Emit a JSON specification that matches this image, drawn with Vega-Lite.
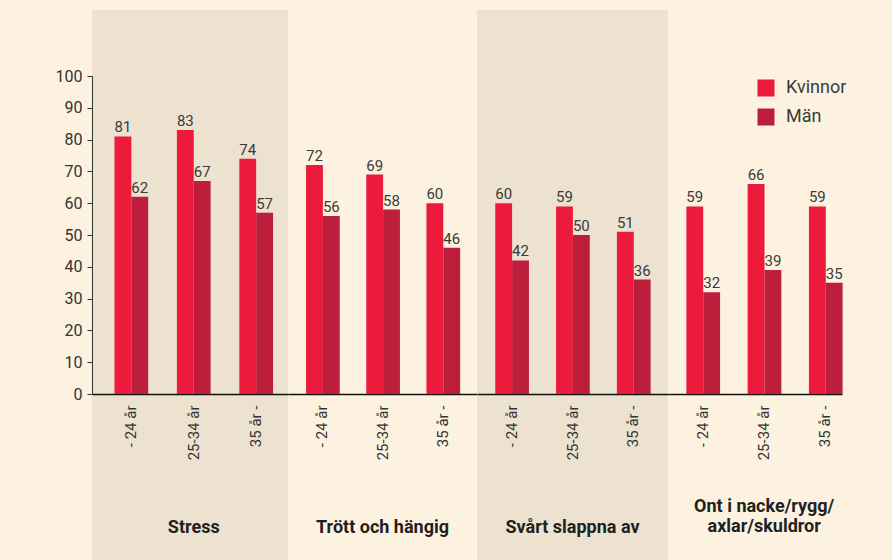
{
  "$schema": "https://vega.github.io/schema/vega-lite/v6.json",
  "background": "#fdf2e0",
  "padding": {"left": 55, "top": 10, "right": 45, "bottom": 0},
  "autosize": {"type": "pad"},
  "spacing": 0,
  "bounds": "flush",
  "datasets": {
    "d": [
      {"grupp": "Stress", "alder": "- 24 år", "kon": "Kvinnor", "varde": 81},
      {"grupp": "Stress", "alder": "- 24 år", "kon": "Män", "varde": 62},
      {"grupp": "Stress", "alder": "25-34 år", "kon": "Kvinnor", "varde": 83},
      {"grupp": "Stress", "alder": "25-34 år", "kon": "Män", "varde": 67},
      {"grupp": "Stress", "alder": "35 år -", "kon": "Kvinnor", "varde": 74},
      {"grupp": "Stress", "alder": "35 år -", "kon": "Män", "varde": 57},
      {"grupp": "Trött", "alder": "- 24 år", "kon": "Kvinnor", "varde": 72},
      {"grupp": "Trött", "alder": "- 24 år", "kon": "Män", "varde": 56},
      {"grupp": "Trött", "alder": "25-34 år", "kon": "Kvinnor", "varde": 69},
      {"grupp": "Trött", "alder": "25-34 år", "kon": "Män", "varde": 58},
      {"grupp": "Trött", "alder": "35 år -", "kon": "Kvinnor", "varde": 60},
      {"grupp": "Trött", "alder": "35 år -", "kon": "Män", "varde": 46},
      {"grupp": "Svårt", "alder": "- 24 år", "kon": "Kvinnor", "varde": 60},
      {"grupp": "Svårt", "alder": "- 24 år", "kon": "Män", "varde": 42},
      {"grupp": "Svårt", "alder": "25-34 år", "kon": "Kvinnor", "varde": 59},
      {"grupp": "Svårt", "alder": "25-34 år", "kon": "Män", "varde": 50},
      {"grupp": "Svårt", "alder": "35 år -", "kon": "Kvinnor", "varde": 51},
      {"grupp": "Svårt", "alder": "35 år -", "kon": "Män", "varde": 36},
      {"grupp": "Ont", "alder": "- 24 år", "kon": "Kvinnor", "varde": 59},
      {"grupp": "Ont", "alder": "- 24 år", "kon": "Män", "varde": 32},
      {"grupp": "Ont", "alder": "25-34 år", "kon": "Kvinnor", "varde": 66},
      {"grupp": "Ont", "alder": "25-34 år", "kon": "Män", "varde": 39},
      {"grupp": "Ont", "alder": "35 år -", "kon": "Kvinnor", "varde": 59},
      {"grupp": "Ont", "alder": "35 år -", "kon": "Män", "varde": 35}
    ]
  },
  "hconcat": [
    {
      "width": 196, "height": 550,
      "view": {"fill": "#ece2cf", "stroke": null},
      "layer": [
        {
          "data": {"name": "d"},
          "transform": [{"filter": "datum.grupp === 'Stress'"}],
          "mark": {"type": "bar"},
          "encoding": {
            "x": {"field": "alder", "type": "nominal", "sort": ["- 24 år", "25-34 år", "35 år -"], "scale": {"paddingInner": 0.46, "paddingOuter": 0.3, "align": 0.6}, "axis": {"title": null, "offset": -166, "domainColor": "#111111", "domainWidth": 1.5, "ticks": false, "labelAngle": 270, "labelAlign": "right", "labelBaseline": "middle", "labelPadding": 11, "labelFontSize": 15, "labelColor": "#333333", "grid": false}},
            "xOffset": {"field": "kon", "type": "nominal", "sort": ["Kvinnor", "Män"], "scale": {"paddingInner": 0, "paddingOuter": 0}},
            "y": {"field": "varde", "type": "quantitative", "scale": {"domain": [0, 100], "range": [384, 66], "nice": false, "zero": false}, "axis": {"values": [0, 10, 20, 30, 40, 50, 60, 70, 80, 90, 100], "domain": true, "domainColor": "#333333", "ticks": true, "tickColor": "#333333", "tickSize": 5, "labelFontSize": 16, "labelColor": "#333333", "labelPadding": 5, "grid": false, "title": null}},
            "color": {"field": "kon", "type": "nominal", "scale": {"domain": ["Kvinnor", "Män"], "range": ["#ed1b3b", "#bd1e3c"]}, "legend": {"orient": "none", "legendX": 665, "legendY": 69, "title": null, "symbolType": "square", "symbolSize": 289, "symbolStrokeWidth": 0, "labelFontSize": 18, "labelColor": "#3a3a3a", "labelOffset": 11, "rowPadding": 11}}
          }
        },
        {
          "data": {"name": "d"},
          "transform": [{"filter": "datum.grupp === 'Stress'"}],
          "mark": {"type": "text", "baseline": "alphabetic", "dy": -4, "fontSize": 15, "color": "#3a3a3a"},
          "encoding": {
            "x": {"field": "alder", "type": "nominal", "sort": ["- 24 år", "25-34 år", "35 år -"]},
            "xOffset": {"field": "kon", "type": "nominal", "sort": ["Kvinnor", "Män"]},
            "y": {"field": "varde", "type": "quantitative"},
            "text": {"field": "varde", "type": "quantitative"}
          }
        },
        {
          "data": {"name": "d"},
          "transform": [{"filter": "datum.grupp === 'Stress'"}, {"aggregate": [{"op": "count", "as": "n"}]}],
          "mark": {"type": "text", "baseline": "alphabetic", "align": "center", "fontSize": 18, "fontWeight": "bold", "color": "#231f20"},
          "encoding": {"x": {"datum": "25-34 år"}, "y": {"datum": -43.7}, "text": {"value": "Stress"}}
        }
      ]
    },
    {
      "width": 189, "height": 550,
      "layer": [
        {
          "data": {"name": "d"},
          "transform": [{"filter": "datum.grupp === 'Trött'"}],
          "mark": {"type": "bar"},
          "encoding": {
            "x": {"field": "alder", "type": "nominal", "sort": ["- 24 år", "25-34 år", "35 år -"], "scale": {"paddingInner": 0.46, "paddingOuter": 0.3}, "axis": {"title": null, "offset": -166, "domainColor": "#111111", "domainWidth": 1.5, "ticks": false, "labelAngle": 270, "labelAlign": "right", "labelBaseline": "middle", "labelPadding": 11, "labelFontSize": 15, "labelColor": "#333333", "grid": false}},
            "xOffset": {"field": "kon", "type": "nominal", "sort": ["Kvinnor", "Män"], "scale": {"paddingInner": 0, "paddingOuter": 0}},
            "y": {"field": "varde", "type": "quantitative", "scale": {"domain": [0, 100], "range": [384, 66], "nice": false, "zero": false}, "axis": null},
            "color": {"field": "kon", "type": "nominal"}
          }
        },
        {
          "data": {"name": "d"},
          "transform": [{"filter": "datum.grupp === 'Trött'"}],
          "mark": {"type": "text", "baseline": "alphabetic", "dy": -4, "fontSize": 15, "color": "#3a3a3a"},
          "encoding": {
            "x": {"field": "alder", "type": "nominal", "sort": ["- 24 år", "25-34 år", "35 år -"]},
            "xOffset": {"field": "kon", "type": "nominal", "sort": ["Kvinnor", "Män"]},
            "y": {"field": "varde", "type": "quantitative"},
            "text": {"field": "varde", "type": "quantitative"}
          }
        },
        {
          "data": {"name": "d"},
          "transform": [{"filter": "datum.grupp === 'Trött'"}, {"aggregate": [{"op": "count", "as": "n"}]}],
          "mark": {"type": "text", "baseline": "alphabetic", "align": "center", "fontSize": 18, "fontWeight": "bold", "color": "#231f20"},
          "encoding": {"x": {"datum": "25-34 år"}, "y": {"datum": -43.7}, "text": {"value": "Trött och hängig"}}
        }
      ]
    },
    {
      "width": 191, "height": 550,
      "view": {"fill": "#ece2cf", "stroke": null},
      "layer": [
        {
          "data": {"name": "d"},
          "transform": [{"filter": "datum.grupp === 'Svårt'"}],
          "mark": {"type": "bar"},
          "encoding": {
            "x": {"field": "alder", "type": "nominal", "sort": ["- 24 år", "25-34 år", "35 år -"], "scale": {"paddingInner": 0.46, "paddingOuter": 0.3}, "axis": {"title": null, "offset": -166, "domainColor": "#111111", "domainWidth": 1.5, "ticks": false, "labelAngle": 270, "labelAlign": "right", "labelBaseline": "middle", "labelPadding": 11, "labelFontSize": 15, "labelColor": "#333333", "grid": false}},
            "xOffset": {"field": "kon", "type": "nominal", "sort": ["Kvinnor", "Män"], "scale": {"paddingInner": 0, "paddingOuter": 0}},
            "y": {"field": "varde", "type": "quantitative", "scale": {"domain": [0, 100], "range": [384, 66], "nice": false, "zero": false}, "axis": null},
            "color": {"field": "kon", "type": "nominal"}
          }
        },
        {
          "data": {"name": "d"},
          "transform": [{"filter": "datum.grupp === 'Svårt'"}],
          "mark": {"type": "text", "baseline": "alphabetic", "dy": -4, "fontSize": 15, "color": "#3a3a3a"},
          "encoding": {
            "x": {"field": "alder", "type": "nominal", "sort": ["- 24 år", "25-34 år", "35 år -"]},
            "xOffset": {"field": "kon", "type": "nominal", "sort": ["Kvinnor", "Män"]},
            "y": {"field": "varde", "type": "quantitative"},
            "text": {"field": "varde", "type": "quantitative"}
          }
        },
        {
          "data": {"name": "d"},
          "transform": [{"filter": "datum.grupp === 'Svårt'"}, {"aggregate": [{"op": "count", "as": "n"}]}],
          "mark": {"type": "text", "baseline": "alphabetic", "align": "center", "fontSize": 18, "fontWeight": "bold", "color": "#231f20"},
          "encoding": {"x": {"datum": "25-34 år"}, "y": {"datum": -43.7}, "text": {"value": "Svårt slappna av"}}
        }
      ]
    },
    {
      "width": 174, "height": 550,
      "layer": [
        {
          "data": {"name": "d"},
          "transform": [{"filter": "datum.grupp === 'Ont'"}],
          "mark": {"type": "bar"},
          "encoding": {
            "x": {"field": "alder", "type": "nominal", "sort": ["- 24 år", "25-34 år", "35 år -"], "scale": {"paddingInner": 0.46, "paddingOuter": 0.15, "align": 1}, "axis": {"title": null, "offset": -166, "domainColor": "#111111", "domainWidth": 1.5, "ticks": false, "labelAngle": 270, "labelAlign": "right", "labelBaseline": "middle", "labelPadding": 11, "labelFontSize": 15, "labelColor": "#333333", "grid": false}},
            "xOffset": {"field": "kon", "type": "nominal", "sort": ["Kvinnor", "Män"], "scale": {"paddingInner": 0, "paddingOuter": 0}},
            "y": {"field": "varde", "type": "quantitative", "scale": {"domain": [0, 100], "range": [384, 66], "nice": false, "zero": false}, "axis": null},
            "color": {"field": "kon", "type": "nominal"}
          }
        },
        {
          "data": {"name": "d"},
          "transform": [{"filter": "datum.grupp === 'Ont'"}],
          "mark": {"type": "text", "baseline": "alphabetic", "dy": -4, "fontSize": 15, "color": "#3a3a3a"},
          "encoding": {
            "x": {"field": "alder", "type": "nominal", "sort": ["- 24 år", "25-34 år", "35 år -"]},
            "xOffset": {"field": "kon", "type": "nominal", "sort": ["Kvinnor", "Män"]},
            "y": {"field": "varde", "type": "quantitative"},
            "text": {"field": "varde", "type": "quantitative"}
          }
        },
        {
          "data": {"name": "d"},
          "transform": [{"filter": "datum.grupp === 'Ont'"}, {"aggregate": [{"op": "count", "as": "n"}]}],
          "mark": {"type": "text", "baseline": "alphabetic", "align": "center", "fontSize": 18, "fontWeight": "bold", "color": "#231f20", "lineHeight": 20},
          "encoding": {"x": {"datum": "25-34 år"}, "y": {"datum": -37.1}, "text": {"value": ["Ont i nacke/rygg/", "axlar/skuldror"]}}
        }
      ]
    }
  ],
  "config": {
    "font": "Roboto",
    "view": {"stroke": null}
  }
}
